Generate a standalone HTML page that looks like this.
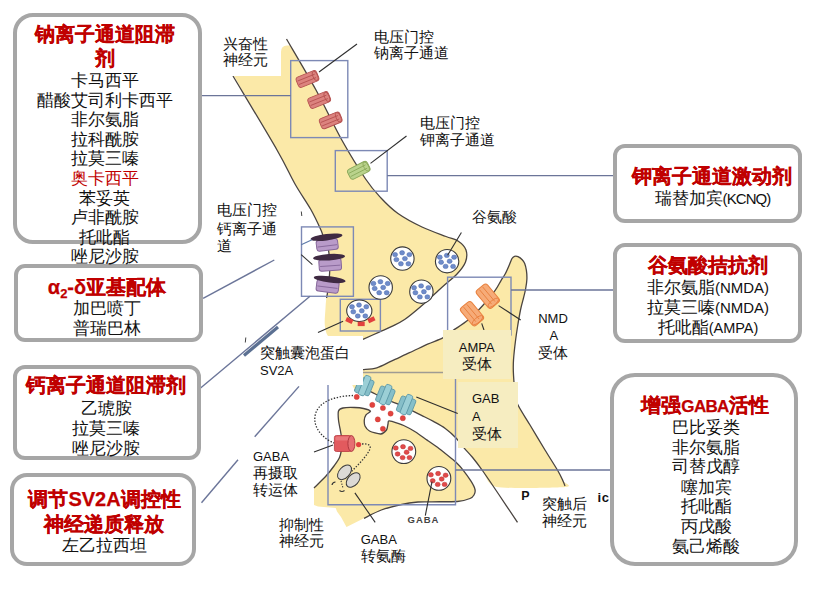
<!DOCTYPE html>
<html><head><meta charset="utf-8">
<style>
html,body{margin:0;padding:0;background:#fff;}
body{width:826px;height:590px;position:relative;overflow:hidden;font-family:"Liberation Sans",sans-serif;}
.box{position:absolute;box-sizing:border-box;border:4.1px solid #a6a6a6;background:#fff;}
.t{position:absolute;white-space:nowrap;text-align:center;transform:translateX(-50%);line-height:20px;height:20px;}
.h{color:#c00000;font-weight:bold;font-size:20px;line-height:24px;height:24px;-webkit-text-stroke:0.25px #c00000;}
.i{color:#111;font-size:17px;}
.r{color:#c00000;}
.lb{position:absolute;white-space:nowrap;font-size:15px;line-height:17px;color:#111;}
.la{font-size:13px;}
svg{position:absolute;left:0;top:0;}
</style></head><body>
<svg width="826" height="590" viewBox="0 0 826 590">
<path d="M281,76 L281,52 Q281,45.5 287,45.5 L290.0,45.5 C294.3,52.9 307.4,74.2 316.0,90.0 C324.6,105.8 333.5,125.2 341.8,140.0 C350.1,154.8 359.1,169.3 365.6,179.0 C372.1,188.7 375.6,192.2 381.0,198.0 C386.4,203.8 391.2,208.7 398.0,213.5 C404.8,218.3 414.0,223.2 422.0,227.0 C430.0,230.8 440.0,234.2 446.0,236.5 C452.0,238.8 454.7,238.8 458.0,241.0 C461.3,243.2 464.8,246.5 466.0,250.0 C467.2,253.5 467.0,258.0 465.5,262.0 C464.0,266.0 461.0,269.8 457.0,274.0 C453.0,278.2 447.6,282.2 441.7,287.5 C435.8,292.8 427.6,300.7 421.4,306.0 C415.2,311.3 409.6,316.1 404.6,319.5 C399.6,322.9 395.5,324.6 391.3,326.7 C387.1,328.8 383.9,330.0 379.2,332.1 C374.5,334.2 365.6,338.2 362.9,339.4 L346.0,346.0 C343.3,344.7 333.5,341.2 330.0,338.0 C326.5,334.8 325.8,332.0 325.0,327.0 C324.2,322.0 325.2,313.8 325.5,308.0 C325.8,302.2 326.3,298.2 327.0,292.0 C327.7,285.8 329.2,278.0 329.5,271.0 C329.8,264.0 329.5,255.7 328.5,250.0 C327.5,244.3 324.8,240.4 323.5,237.0 C322.2,233.6 322.9,234.3 320.8,229.7 C318.7,225.1 314.9,216.9 310.7,209.3 C306.5,201.7 301.0,193.8 295.4,183.9 C289.8,174.0 287.2,168.0 277.0,150.0 C266.8,132.0 241.2,88.3 234.0,76.0 L281,76 Z" fill="#fbe9a8"/>
<path d="M286.5,39.0 C291.4,47.5 306.8,73.2 316.0,90.0 C325.2,106.8 333.5,125.2 341.8,140.0 C350.1,154.8 359.1,169.3 365.6,179.0 C372.1,188.7 375.6,192.2 381.0,198.0 C386.4,203.8 391.2,208.7 398.0,213.5 C404.8,218.3 414.0,223.2 422.0,227.0 C430.0,230.8 440.0,234.2 446.0,236.5 C452.0,238.8 454.7,238.8 458.0,241.0 C461.3,243.2 464.8,246.5 466.0,250.0 C467.2,253.5 467.0,258.0 465.5,262.0 C464.0,266.0 461.0,269.8 457.0,274.0 C453.0,278.2 447.6,282.2 441.7,287.5 C435.8,292.8 427.6,300.7 421.4,306.0 C415.2,311.3 409.6,316.1 404.6,319.5 C399.6,322.9 395.5,324.6 391.3,326.7 C387.1,328.8 383.9,330.0 379.2,332.1 C374.5,334.2 365.6,338.2 362.9,339.4" fill="none" stroke="#4a4440" stroke-width="1.3"/>
<path d="M233.0,76.0 C240.3,88.3 266.7,132.0 277.0,150.0 C287.3,168.0 289.4,174.1 295.0,184.0 C300.6,193.9 306.4,201.7 310.7,209.3 C315.0,216.9 318.7,225.1 320.8,229.7 C322.9,234.3 322.2,233.7 323.5,237.0 C324.8,240.3 327.4,244.1 328.4,249.7 C329.4,255.3 329.8,263.9 329.7,270.7 C329.6,277.5 328.3,285.9 327.8,290.5 C327.3,295.1 326.8,296.8 326.6,298.0" fill="none" stroke="#4a4440" stroke-width="1.3"/>
<path d="M356.0,372.0 C357.3,371.7 360.5,370.1 362.9,369.6 C365.3,369.1 373.5,368.8 376.8,367.8 C380.1,366.8 387.5,363.0 391.3,361.2 C395.1,359.4 405.3,354.7 409.5,352.7 C413.7,350.7 423.7,345.9 427.6,344.2 C431.5,342.5 439.9,339.5 442.8,337.9 C445.7,336.3 449.7,332.8 452.7,330.7 C455.7,328.6 464.9,322.8 468.4,319.8 C471.9,316.8 479.9,308.7 483.0,305.3 C486.1,301.9 492.9,293.6 495.0,290.7 C497.1,287.8 499.8,282.6 501.0,280.6 C502.2,278.6 504.3,275.7 505.3,273.8 C506.3,271.9 508.7,266.3 509.5,264.5 C510.3,262.7 511.4,259.5 512.0,258.5 C512.6,257.5 513.8,256.5 514.5,256.3 C515.2,256.1 517.1,256.2 518.0,256.6 C518.9,257.0 521.4,259.0 522.2,259.8 C523.0,260.6 524.2,262.4 524.7,263.6 C525.2,264.8 526.1,268.6 526.4,270.4 C526.7,272.2 527.0,276.8 526.9,279.0 C526.8,281.2 526.0,286.8 525.6,289.0 C525.2,291.2 524.1,295.6 523.5,298.0 C522.9,300.4 521.2,306.6 520.5,310.0 C519.8,313.4 518.1,323.5 517.5,327.0 C516.9,330.5 516.1,336.1 515.6,340.0 C515.1,343.9 513.7,355.9 513.5,360.0 C513.3,364.1 513.3,371.3 513.5,375.0 C513.7,378.7 514.5,388.6 515.0,392.0 C515.5,395.4 515.8,400.1 517.5,404.0 C519.2,407.9 526.8,419.6 530.0,425.0 C533.2,430.4 541.7,444.6 545.0,450.0 C548.3,455.4 555.9,467.4 558.0,471.0 C560.1,474.6 562.1,479.1 563.0,481.0 C563.9,482.9 573.8,486.3 566.0,487.0 C558.2,487.7 506.2,488.9 496.5,487.0 C486.8,485.1 485.6,474.4 482.8,471.0 C480.0,467.6 474.8,460.2 472.6,457.5 C470.4,454.8 466.1,450.4 464.2,448.1 C462.3,445.8 458.2,440.3 456.0,438.0 C453.8,435.7 447.9,430.4 445.3,428.5 C442.7,426.6 436.2,422.9 433.4,421.4 C430.6,419.9 424.0,416.6 421.5,415.4 C419.0,414.2 414.9,412.1 412.0,410.7 C409.1,409.3 400.3,405.0 397.0,403.6 C393.7,402.2 386.8,399.9 383.6,398.5 C380.4,397.1 372.7,392.4 369.5,391.4 C366.3,390.4 358.0,390.9 356.0,390.0 C354.0,389.1 352.5,386.1 352.0,384.0 C351.5,381.9 351.5,373.4 352.0,372.0 C352.5,370.6 354.7,372.3 356.0,372.0 Z" fill="#fbe9a8"/>
<path d="M362.9,369.6 C365.2,369.3 372.1,369.2 376.8,367.8 C381.5,366.4 385.9,363.7 391.3,361.2 C396.8,358.7 403.4,355.5 409.5,352.7 C415.6,349.9 422.1,346.7 427.6,344.2 C433.2,341.7 438.6,340.1 442.8,337.9 C447.0,335.6 448.4,333.7 452.7,330.7 C457.0,327.7 463.3,324.0 468.4,319.8 C473.4,315.6 478.6,310.2 483.0,305.3 C487.4,300.4 492.0,294.8 495.0,290.7 C498.0,286.6 499.3,283.4 501.0,280.6 C502.7,277.8 503.9,276.5 505.3,273.8 C506.7,271.1 508.4,267.1 509.5,264.5 C510.6,261.9 511.2,259.9 512.0,258.5 C512.8,257.1 513.5,256.6 514.5,256.3 C515.5,256.0 516.7,256.0 518.0,256.6 C519.3,257.2 521.1,258.6 522.2,259.8 C523.3,261.0 524.0,261.8 524.7,263.6 C525.4,265.4 526.0,267.8 526.4,270.4 C526.8,273.0 527.0,275.9 526.9,279.0 C526.8,282.1 526.2,285.8 525.6,289.0 C525.0,292.2 524.4,294.5 523.5,298.0 C522.6,301.5 521.5,305.2 520.5,310.0 C519.5,314.8 518.3,322.0 517.5,327.0 C516.7,332.0 516.3,334.5 515.6,340.0 C514.9,345.5 513.9,354.2 513.5,360.0 C513.1,365.8 513.2,369.7 513.5,375.0 C513.8,380.3 514.3,387.2 515.0,392.0 C515.7,396.8 515.0,398.5 517.5,404.0 C520.0,409.5 525.4,417.3 530.0,425.0 C534.6,432.7 540.3,442.3 545.0,450.0 C549.7,457.7 555.0,465.8 558.0,471.0 C561.0,476.2 561.8,478.5 563.0,481.0 C564.2,483.5 564.7,485.2 565.0,486.0" fill="none" stroke="#4a4440" stroke-width="1.3"/>
<path d="M517.5,522.4 C514.3,517.7 504.3,502.6 498.5,494.0 C492.7,485.4 487.1,477.1 482.8,471.0 C478.5,464.9 475.7,461.3 472.6,457.5 C469.5,453.7 467.0,451.4 464.2,448.1 C461.4,444.9 459.1,441.3 456.0,438.0 C452.9,434.7 449.1,431.3 445.3,428.5 C441.5,425.7 437.4,423.6 433.4,421.4 C429.4,419.2 425.1,417.2 421.5,415.4 C417.9,413.6 416.1,412.7 412.0,410.7 C407.9,408.7 401.7,405.6 397.0,403.6 C392.3,401.6 388.2,400.5 383.6,398.5 C379.0,396.5 374.4,392.8 369.5,391.4 C364.6,390.0 357.0,390.2 354.5,390.0" fill="none" stroke="#4a4440" stroke-width="1.3"/>
<path d="M343.0,408.0 L354.5,407.5 L363.5,408.5 L370.5,411.3 L366.0,414.8 L364.3,420.0 L365.0,426.0 L369.5,431.0 L380.7,434.0 L386.5,430.0 L388.0,424.0 L388.5,421.0 L392.0,421.4 L403.7,425.5 L415.6,432.0 L427.5,440.4 L439.3,448.7 L451.2,458.2 L456.0,462.3 L462.5,469.3 L471.0,481.2 L475.0,489.5 L474.0,495.0 L470.0,498.5 L457.4,501.5 L432.0,501.8 L418.0,502.0 L401.7,504.5 L381.3,510.0 L364.0,518.3 L356.0,522.3 L346.5,527.0 L341.0,517.0 L337.0,511.5 L335.7,508.0 L318.0,506.5 L314.0,505.0 L314.0,488.0 L326.0,476.0 L334.0,466.0 L339.7,457.0 L342.0,444.0 L341.0,434.0 L338.5,420.0 L338.5,411.0 Z" fill="#fbe9a8"/>
<path d="M314.0,488.0 C315.6,486.4 323.3,478.9 326.0,476.0 C328.7,473.1 332.2,468.5 334.0,466.0 C335.8,463.5 338.6,459.9 339.7,457.0 C340.8,454.1 341.8,447.1 342.0,444.0 C342.2,440.9 341.5,437.2 341.0,434.0 C340.5,430.8 338.8,423.1 338.5,420.0 C338.2,416.9 337.9,412.6 338.5,411.0 C339.1,409.4 340.9,408.5 343.0,408.0 C345.1,407.5 351.8,407.4 354.5,407.5 C357.2,407.6 361.4,408.0 363.5,408.5 C365.6,409.0 370.2,410.5 370.5,411.3 C370.8,412.1 366.8,413.6 366.0,414.8 C365.2,416.0 364.4,418.5 364.3,420.0 C364.2,421.5 364.3,424.5 365.0,426.0 C365.7,427.5 367.4,429.9 369.5,431.0 C371.6,432.1 378.4,434.1 380.7,434.0 C383.0,433.9 385.5,431.3 386.5,430.0 C387.5,428.7 387.7,425.2 388.0,424.0 C388.3,422.8 388.0,421.3 388.5,421.0 C389.0,420.7 390.0,420.8 392.0,421.4 C394.0,422.0 400.6,424.1 403.7,425.5 C406.8,426.9 412.4,430.0 415.6,432.0 C418.8,434.0 424.3,438.2 427.5,440.4 C430.7,442.6 436.1,446.3 439.3,448.7 C442.5,451.1 449.0,456.4 451.2,458.2 C453.4,460.0 454.5,460.8 456.0,462.3 C457.5,463.8 460.5,466.8 462.5,469.3 C464.5,471.8 469.3,478.5 471.0,481.2 C472.7,483.9 474.6,487.7 475.0,489.5 C475.4,491.3 474.7,493.8 474.0,495.0 C473.3,496.2 472.2,497.6 470.0,498.5 C467.8,499.4 462.5,501.1 457.4,501.5 C452.3,501.9 437.3,501.7 432.0,501.8 C426.7,501.9 422.0,501.6 418.0,502.0 C414.0,502.4 406.6,503.4 401.7,504.5 C396.8,505.6 386.3,508.2 381.3,510.0 C376.3,511.8 366.3,517.2 364.0,518.3" fill="none" stroke="#4a4440" stroke-width="1.3"/>
<rect x="290.7" y="60.6" width="57.1" height="77.0" fill="none" stroke="#7d89b5" stroke-width="1.4"/>
<rect x="335.3" y="150.6" width="51.9" height="40.6" fill="none" stroke="#7d89b5" stroke-width="1.4"/>
<rect x="301.5" y="226.9" width="51.9" height="69.4" fill="none" stroke="#7d89b5" stroke-width="1.4"/>
<rect x="340.3" y="299.3" width="40.1" height="31.7" fill="none" stroke="#7d89b5" stroke-width="1.4"/>
<rect x="447.6" y="277.2" width="63.4" height="57.8" fill="none" stroke="#7d89b5" stroke-width="1.4"/>
<polyline points="328.0,372.2 328.0,504.7 455.5,504.7 455.5,372.2" fill="none" stroke="#7d89b5" stroke-width="1.4" />
<polyline points="328.0,372.5 455.5,372.5" fill="none" stroke="#9e9b93" stroke-width="1.6" />
<g transform="translate(307.5,79.0) rotate(-22.0)"><rect x="-11" y="-5.5" width="22" height="11" rx="3" fill="#dc837f" stroke="#b5504f" stroke-width="0.9"/><line x1="-10" y1="-1.8" x2="8.5" y2="-1.8" stroke="#b5504f" stroke-width="0.8"/><line x1="-10" y1="1.9" x2="8.5" y2="1.9" stroke="#b5504f" stroke-width="0.8"/><ellipse cx="8.3" cy="0" rx="2.3" ry="5" fill="none" stroke="#b5504f" stroke-width="0.8"/></g>
<g transform="translate(319.2,100.0) rotate(-22.0)"><rect x="-11" y="-5.5" width="22" height="11" rx="3" fill="#dc837f" stroke="#b5504f" stroke-width="0.9"/><line x1="-10" y1="-1.8" x2="8.5" y2="-1.8" stroke="#b5504f" stroke-width="0.8"/><line x1="-10" y1="1.9" x2="8.5" y2="1.9" stroke="#b5504f" stroke-width="0.8"/><ellipse cx="8.3" cy="0" rx="2.3" ry="5" fill="none" stroke="#b5504f" stroke-width="0.8"/></g>
<g transform="translate(330.7,120.4) rotate(-22.0)"><rect x="-11" y="-5.5" width="22" height="11" rx="3" fill="#dc837f" stroke="#b5504f" stroke-width="0.9"/><line x1="-10" y1="-1.8" x2="8.5" y2="-1.8" stroke="#b5504f" stroke-width="0.8"/><line x1="-10" y1="1.9" x2="8.5" y2="1.9" stroke="#b5504f" stroke-width="0.8"/><ellipse cx="8.3" cy="0" rx="2.3" ry="5" fill="none" stroke="#b5504f" stroke-width="0.8"/></g>
<g transform="translate(358.8,170.3) rotate(-27.0)"><rect x="-11" y="-5.5" width="22" height="11" rx="3" fill="#bad38c" stroke="#8aa85a" stroke-width="0.9"/><line x1="-10" y1="-1.8" x2="8.5" y2="-1.8" stroke="#8aa85a" stroke-width="0.8"/><line x1="-10" y1="1.9" x2="8.5" y2="1.9" stroke="#8aa85a" stroke-width="0.8"/><ellipse cx="8.3" cy="0" rx="2.3" ry="5" fill="none" stroke="#8aa85a" stroke-width="0.8"/></g>
<g transform="rotate(-7.0 326.5 237.2)"><rect x="315.5" y="239.5" width="21.5" height="10.8" rx="2.5" fill="#b99bc9" stroke="#86679a" stroke-width="1"/><line x1="316.5" y1="245.9" x2="336.0" y2="245.9" stroke="#86679a" stroke-width="0.9"/><ellipse cx="326.5" cy="237.2" rx="16" ry="3.2" fill="#3f2a42"/></g>
<g transform="rotate(-4.0 329.0 257.2)"><rect x="318.5" y="259.0" width="22.3" height="11.7" rx="2.5" fill="#b99bc9" stroke="#86679a" stroke-width="1"/><line x1="319.5" y1="265.9" x2="339.8" y2="265.9" stroke="#86679a" stroke-width="0.9"/><ellipse cx="329.0" cy="257.2" rx="16" ry="3.2" fill="#3f2a42"/></g>
<g transform="rotate(7.0 329.7 279.4)"><rect x="317.3" y="280.5" width="22.3" height="11.9" rx="2.5" fill="#b99bc9" stroke="#86679a" stroke-width="1"/><line x1="318.3" y1="287.4" x2="338.6" y2="287.4" stroke="#86679a" stroke-width="0.9"/><ellipse cx="329.7" cy="279.4" rx="16" ry="3.2" fill="#3f2a42"/></g>
<polyline points="301.2,244.8 312.0,239.8" fill="none" stroke="#5a78a8" stroke-width="1.1" />
<polyline points="301.2,254.7 312.4,264.6" fill="none" stroke="#333" stroke-width="1.1" />
<ellipse cx="402.4" cy="258.6" rx="11.7" ry="11.7" fill="#fff" stroke="#3a3a3a" stroke-width="1.1"/>
<ellipse cx="395.1" cy="254.6" rx="2.5" ry="2.2" fill="#6f8cca" stroke="#4a68ac" stroke-width="0.5"/>
<ellipse cx="402.1" cy="252.8" rx="2.5" ry="2.2" fill="#6f8cca" stroke="#4a68ac" stroke-width="0.5"/>
<ellipse cx="409.4" cy="254.6" rx="2.5" ry="2.2" fill="#6f8cca" stroke="#4a68ac" stroke-width="0.5"/>
<ellipse cx="396.4" cy="259.6" rx="2.5" ry="2.2" fill="#6f8cca" stroke="#4a68ac" stroke-width="0.5"/>
<ellipse cx="404.9" cy="258.6" rx="2.5" ry="2.2" fill="#6f8cca" stroke="#4a68ac" stroke-width="0.5"/>
<ellipse cx="400.9" cy="263.8" rx="2.5" ry="2.2" fill="#6f8cca" stroke="#4a68ac" stroke-width="0.5"/>
<ellipse cx="408.4" cy="263.8" rx="2.5" ry="2.2" fill="#6f8cca" stroke="#4a68ac" stroke-width="0.5"/>
<ellipse cx="447.1" cy="261.2" rx="11.7" ry="11.7" fill="#fff" stroke="#3a3a3a" stroke-width="1.1"/>
<ellipse cx="439.8" cy="257.2" rx="2.5" ry="2.2" fill="#6f8cca" stroke="#4a68ac" stroke-width="0.5"/>
<ellipse cx="446.8" cy="255.4" rx="2.5" ry="2.2" fill="#6f8cca" stroke="#4a68ac" stroke-width="0.5"/>
<ellipse cx="454.1" cy="257.2" rx="2.5" ry="2.2" fill="#6f8cca" stroke="#4a68ac" stroke-width="0.5"/>
<ellipse cx="441.1" cy="262.2" rx="2.5" ry="2.2" fill="#6f8cca" stroke="#4a68ac" stroke-width="0.5"/>
<ellipse cx="449.6" cy="261.2" rx="2.5" ry="2.2" fill="#6f8cca" stroke="#4a68ac" stroke-width="0.5"/>
<ellipse cx="445.6" cy="266.4" rx="2.5" ry="2.2" fill="#6f8cca" stroke="#4a68ac" stroke-width="0.5"/>
<ellipse cx="453.1" cy="266.4" rx="2.5" ry="2.2" fill="#6f8cca" stroke="#4a68ac" stroke-width="0.5"/>
<ellipse cx="380.7" cy="287.5" rx="11.7" ry="11.7" fill="#fff" stroke="#3a3a3a" stroke-width="1.1"/>
<ellipse cx="373.4" cy="283.5" rx="2.5" ry="2.2" fill="#6f8cca" stroke="#4a68ac" stroke-width="0.5"/>
<ellipse cx="380.4" cy="281.7" rx="2.5" ry="2.2" fill="#6f8cca" stroke="#4a68ac" stroke-width="0.5"/>
<ellipse cx="387.7" cy="283.5" rx="2.5" ry="2.2" fill="#6f8cca" stroke="#4a68ac" stroke-width="0.5"/>
<ellipse cx="374.7" cy="288.5" rx="2.5" ry="2.2" fill="#6f8cca" stroke="#4a68ac" stroke-width="0.5"/>
<ellipse cx="383.2" cy="287.5" rx="2.5" ry="2.2" fill="#6f8cca" stroke="#4a68ac" stroke-width="0.5"/>
<ellipse cx="379.2" cy="292.7" rx="2.5" ry="2.2" fill="#6f8cca" stroke="#4a68ac" stroke-width="0.5"/>
<ellipse cx="386.7" cy="292.7" rx="2.5" ry="2.2" fill="#6f8cca" stroke="#4a68ac" stroke-width="0.5"/>
<ellipse cx="421.4" cy="291.7" rx="11.7" ry="11.7" fill="#fff" stroke="#3a3a3a" stroke-width="1.1"/>
<ellipse cx="414.1" cy="287.7" rx="2.5" ry="2.2" fill="#6f8cca" stroke="#4a68ac" stroke-width="0.5"/>
<ellipse cx="421.1" cy="285.9" rx="2.5" ry="2.2" fill="#6f8cca" stroke="#4a68ac" stroke-width="0.5"/>
<ellipse cx="428.4" cy="287.7" rx="2.5" ry="2.2" fill="#6f8cca" stroke="#4a68ac" stroke-width="0.5"/>
<ellipse cx="415.4" cy="292.7" rx="2.5" ry="2.2" fill="#6f8cca" stroke="#4a68ac" stroke-width="0.5"/>
<ellipse cx="423.9" cy="291.7" rx="2.5" ry="2.2" fill="#6f8cca" stroke="#4a68ac" stroke-width="0.5"/>
<ellipse cx="419.9" cy="296.9" rx="2.5" ry="2.2" fill="#6f8cca" stroke="#4a68ac" stroke-width="0.5"/>
<ellipse cx="427.4" cy="296.9" rx="2.5" ry="2.2" fill="#6f8cca" stroke="#4a68ac" stroke-width="0.5"/>
<ellipse cx="359.3" cy="310.8" rx="12.6" ry="10.8" fill="#fff" stroke="#3a3a3a" stroke-width="1.1"/>
<ellipse cx="352.0" cy="306.8" rx="2.5" ry="2.2" fill="#6f8cca" stroke="#4a68ac" stroke-width="0.5"/>
<ellipse cx="359.0" cy="305.0" rx="2.5" ry="2.2" fill="#6f8cca" stroke="#4a68ac" stroke-width="0.5"/>
<ellipse cx="366.3" cy="306.8" rx="2.5" ry="2.2" fill="#6f8cca" stroke="#4a68ac" stroke-width="0.5"/>
<ellipse cx="353.3" cy="311.8" rx="2.5" ry="2.2" fill="#6f8cca" stroke="#4a68ac" stroke-width="0.5"/>
<ellipse cx="361.8" cy="310.8" rx="2.5" ry="2.2" fill="#6f8cca" stroke="#4a68ac" stroke-width="0.5"/>
<ellipse cx="357.8" cy="316.0" rx="2.5" ry="2.2" fill="#6f8cca" stroke="#4a68ac" stroke-width="0.5"/>
<ellipse cx="365.3" cy="316.0" rx="2.5" ry="2.2" fill="#6f8cca" stroke="#4a68ac" stroke-width="0.5"/>
<rect x="-3.5" y="-2.2" width="7" height="4.4" fill="#e2403e" transform="translate(349.3,320.5) rotate(25)"/>
<rect x="-3.5" y="-2.2" width="7" height="4.4" fill="#e2403e" transform="translate(361.2,323.9) rotate(0)"/>
<rect x="-3.5" y="-2.2" width="7" height="4.4" fill="#e2403e" transform="translate(371.4,319.7) rotate(-25)"/>
<ellipse cx="403.8" cy="451.6" rx="11.9" ry="11.9" fill="#fff" stroke="#3a3a3a" stroke-width="1.1"/>
<ellipse cx="395.8" cy="448.0" rx="2.5" ry="2.2" fill="#e24a4a" stroke="#b83030" stroke-width="0.5"/>
<ellipse cx="403.0" cy="446.7" rx="2.5" ry="2.2" fill="#e24a4a" stroke="#b83030" stroke-width="0.5"/>
<ellipse cx="410.5" cy="448.4" rx="2.5" ry="2.2" fill="#e24a4a" stroke="#b83030" stroke-width="0.5"/>
<ellipse cx="397.6" cy="454.0" rx="2.5" ry="2.2" fill="#e24a4a" stroke="#b83030" stroke-width="0.5"/>
<ellipse cx="406.6" cy="452.2" rx="2.5" ry="2.2" fill="#e24a4a" stroke="#b83030" stroke-width="0.5"/>
<ellipse cx="402.6" cy="457.6" rx="2.5" ry="2.2" fill="#e24a4a" stroke="#b83030" stroke-width="0.5"/>
<ellipse cx="409.5" cy="457.6" rx="2.5" ry="2.2" fill="#e24a4a" stroke="#b83030" stroke-width="0.5"/>
<ellipse cx="438.9" cy="478.4" rx="11.9" ry="11.9" fill="#fff" stroke="#3a3a3a" stroke-width="1.1"/>
<ellipse cx="430.9" cy="474.8" rx="2.5" ry="2.2" fill="#e24a4a" stroke="#b83030" stroke-width="0.5"/>
<ellipse cx="438.1" cy="473.5" rx="2.5" ry="2.2" fill="#e24a4a" stroke="#b83030" stroke-width="0.5"/>
<ellipse cx="445.6" cy="475.2" rx="2.5" ry="2.2" fill="#e24a4a" stroke="#b83030" stroke-width="0.5"/>
<ellipse cx="432.7" cy="480.8" rx="2.5" ry="2.2" fill="#e24a4a" stroke="#b83030" stroke-width="0.5"/>
<ellipse cx="441.7" cy="479.0" rx="2.5" ry="2.2" fill="#e24a4a" stroke="#b83030" stroke-width="0.5"/>
<ellipse cx="437.7" cy="484.4" rx="2.5" ry="2.2" fill="#e24a4a" stroke="#b83030" stroke-width="0.5"/>
<ellipse cx="444.6" cy="484.4" rx="2.5" ry="2.2" fill="#e24a4a" stroke="#b83030" stroke-width="0.5"/>
<g transform="translate(472.0,313.7) rotate(50.0)"><rect x="-11.5" y="-7.0" width="23.0" height="14.0" rx="3" fill="#f6ab78" stroke="#e8803e" stroke-width="1"/><line x1="-10.5" y1="-2" x2="8.5" y2="-2" stroke="#e8803e" stroke-width="0.9"/><line x1="-10.5" y1="2.2" x2="8.5" y2="2.2" stroke="#e8803e" stroke-width="0.9"/><ellipse cx="8.5" cy="0" rx="2.5" ry="6.5" fill="none" stroke="#e8803e" stroke-width="0.9"/></g>
<g transform="translate(487.8,296.2) rotate(50.0)"><rect x="-11.5" y="-7.0" width="23.0" height="14.0" rx="3" fill="#f6ab78" stroke="#e8803e" stroke-width="1"/><line x1="-10.5" y1="-2" x2="8.5" y2="-2" stroke="#e8803e" stroke-width="0.9"/><line x1="-10.5" y1="2.2" x2="8.5" y2="2.2" stroke="#e8803e" stroke-width="0.9"/><ellipse cx="8.5" cy="0" rx="2.5" ry="6.5" fill="none" stroke="#e8803e" stroke-width="0.9"/></g>
<g transform="translate(364.5,386.0) rotate(22.0) scale(0.9)"><rect x="-8.5" y="-8" width="6.5" height="18" rx="2" fill="#86bfc9" stroke="#5a97a6" stroke-width="0.9"/><rect x="2" y="-9" width="6.5" height="18" rx="2" fill="#86bfc9" stroke="#5a97a6" stroke-width="0.9"/><rect x="-3.5" y="-12" width="7" height="23" rx="2" fill="#9bcfd6" stroke="#5a97a6" stroke-width="0.9"/></g>
<g transform="translate(385.5,395.0) rotate(22.0) scale(0.9)"><rect x="-8.5" y="-8" width="6.5" height="18" rx="2" fill="#86bfc9" stroke="#5a97a6" stroke-width="0.9"/><rect x="2" y="-9" width="6.5" height="18" rx="2" fill="#86bfc9" stroke="#5a97a6" stroke-width="0.9"/><rect x="-3.5" y="-12" width="7" height="23" rx="2" fill="#9bcfd6" stroke="#5a97a6" stroke-width="0.9"/></g>
<g transform="translate(406.3,405.0) rotate(22.0) scale(0.9)"><rect x="-8.5" y="-8" width="6.5" height="18" rx="2" fill="#86bfc9" stroke="#5a97a6" stroke-width="0.9"/><rect x="2" y="-9" width="6.5" height="18" rx="2" fill="#86bfc9" stroke="#5a97a6" stroke-width="0.9"/><rect x="-3.5" y="-12" width="7" height="23" rx="2" fill="#9bcfd6" stroke="#5a97a6" stroke-width="0.9"/></g>
<circle cx="356.7" cy="396.9" r="2.6" fill="#e2443f" stroke="#c83430" stroke-width="0.4"/>
<circle cx="372.3" cy="404.9" r="2.6" fill="#e2443f" stroke="#c83430" stroke-width="0.4"/>
<circle cx="382.9" cy="408.0" r="2.6" fill="#e2443f" stroke="#c83430" stroke-width="0.4"/>
<circle cx="390.6" cy="413.6" r="2.6" fill="#e2443f" stroke="#c83430" stroke-width="0.4"/>
<circle cx="377.8" cy="419.4" r="2.6" fill="#e2443f" stroke="#c83430" stroke-width="0.4"/>
<circle cx="382.9" cy="428.8" r="2.6" fill="#e2443f" stroke="#c83430" stroke-width="0.4"/>
<circle cx="402.8" cy="418.2" r="2.6" fill="#e2443f" stroke="#c83430" stroke-width="0.4"/>
<g transform="translate(343.4,443.5)"><rect x="-9" y="-8" width="17" height="16" rx="2" fill="#e25a5e" stroke="#b83a40" stroke-width="0.8"/><rect x="-8" y="-7" width="15" height="4" rx="1.5" fill="#ec8588" opacity="0.7"/><ellipse cx="8" cy="0" rx="3.5" ry="8" fill="#e66f72" stroke="#a8323a" stroke-width="0.9"/></g>
<circle cx="358.6" cy="444.6" r="2.6" fill="#e2403e"/>
<path d="M353,395.5 C338,396 318,400 315,416 C313,430 326,440 334,443" fill="none" stroke="#333" stroke-width="1.3" stroke-dasharray="1.4,1.6"/>
<path d="M362,444 C368,443.5 371,445 370,449 C367,456 358,465 351,472" fill="none" stroke="#333" stroke-width="1.3" stroke-dasharray="1.4,1.6"/>
<ellipse cx="344.5" cy="472.3" rx="5.3" ry="8.6" transform="rotate(42 344.5 472.3)" fill="#dcdad5" stroke="#3a3a3a" stroke-width="1"/>
<ellipse cx="353.2" cy="480" rx="5.3" ry="8.6" transform="rotate(42 353.2 480)" fill="#dcdad5" stroke="#3a3a3a" stroke-width="1"/>
<path d="M332,485 q0.5,-3 3.5,-3 M339.5,490.5 q2.5,2 5,0" fill="none" stroke="#333" stroke-width="1.2"/>
<path d="M341,481 L343,488" fill="none" stroke="#333" stroke-width="1.1" stroke-dasharray="1.2,1.5"/>
<polyline points="319.0,72.0 357.0,44.0" fill="none" stroke="#2e2e2e" stroke-width="1.1" />
<polyline points="370.5,163.4 406.5,136.0" fill="none" stroke="#2e2e2e" stroke-width="1.1" />
<polyline points="447.6,255.3 461.4,232.5" fill="none" stroke="#2e2e2e" stroke-width="1.1" />
<polyline points="318.0,332.5 343.1,321.3" fill="none" stroke="#2e2e2e" stroke-width="1.1" />
<polyline points="481.7,323.4 484.0,330.0" fill="none" stroke="#2e2e2e" stroke-width="1.1" />
<polyline points="498.6,305.6 520.7,320.0" fill="none" stroke="#2e2e2e" stroke-width="1.1" />
<polyline points="416.3,396.9 457.7,413.6" fill="none" stroke="#2e2e2e" stroke-width="1.1" />
<polyline points="314.0,452.0 333.0,445.0" fill="none" stroke="#2e2e2e" stroke-width="1.1" />
<polyline points="354.9,492.9 375.2,522.4" fill="none" stroke="#2e2e2e" stroke-width="1.1" />
<polyline points="432.0,481.7 425.3,515.6" fill="none" stroke="#2e2e2e" stroke-width="1.1" />
<polyline points="245.8,337.5 245.3,342.5" fill="none" stroke="#444" stroke-width="1.0" />
<polyline points="301.3,211.5 301.8,216.0" fill="none" stroke="#444" stroke-width="1.0" />
</svg>

<!-- diagram label backgrounds -->
<div style="position:absolute;left:212px;top:28px;width:69px;height:47.8px;background:#fff;"></div>
<div style="position:absolute;left:252px;top:336px;width:111px;height:49px;background:#fff;"></div>
<div style="position:absolute;left:443.2px;top:330.2px;width:67.8px;height:49.2px;background:#f6edc1;"></div>
<div style="position:absolute;left:457.5px;top:382px;width:60.5px;height:65.7px;background:#f6edc1;"></div>
<!-- diagram labels -->
<div class="lb" style="left:222.7px;top:34.5px;">兴奋性</div>
<div class="lb" style="left:222.7px;top:51.2px;">神经元</div>
<div class="lb" style="left:373.6px;top:27.5px;">电压门控</div>
<div class="lb" style="left:373.6px;top:44px;">钠离子通道</div>
<div class="lb" style="left:420px;top:114px;">电压门控</div>
<div class="lb" style="left:420px;top:130.8px;">钾离子通道</div>
<div class="lb" style="left:216.8px;top:200.5px;">电压门控</div>
<div class="lb" style="left:216.8px;top:219.5px;">钙离子通</div>
<div class="lb" style="left:216.8px;top:237px;">道</div>
<div class="lb" style="left:472.3px;top:207.5px;">谷氨酸</div>
<div class="lb" style="left:259.7px;top:343.5px;">突触囊泡蛋白</div>
<div class="lb la" style="left:260px;top:361.5px;">SV2A</div>
<div class="lb la" style="left:458.8px;top:338.5px;">AMPA</div>
<div class="lb" style="left:462.2px;top:354.5px;">受体</div>
<div class="lb la" style="left:538.2px;top:309.5px;">NMD</div>
<div class="lb la" style="left:549.6px;top:326.5px;">A</div>
<div class="lb" style="left:538.2px;top:343.5px;">受体</div>
<div class="lb la" style="left:471.9px;top:389.5px;">GAB</div>
<div class="lb la" style="left:471.9px;top:408.3px;">A</div>
<div class="lb" style="left:471.9px;top:424.5px;">受体</div>
<div class="lb la" style="left:253px;top:447.5px;">GABA</div>
<div class="lb" style="left:253px;top:464.2px;">再摄取</div>
<div class="lb" style="left:253px;top:480.5px;">转运体</div>
<div class="lb" style="left:278.8px;top:515.5px;">抑制性</div>
<div class="lb" style="left:278.8px;top:532.2px;">神经元</div>
<div class="lb la" style="left:360.7px;top:530.5px;">GABA</div>
<div class="lb" style="left:360.7px;top:546.5px;">转氨酶</div>
<div class="lb" style="left:541.6px;top:495px;">突触后</div>
<div class="lb" style="left:541.6px;top:511.5px;">神经元</div>
<div class="lb" style="left:521.3px;top:488px;font-size:12.5px;font-weight:bold;">P</div>
<div class="lb" style="left:597.5px;top:488.5px;font-size:13px;letter-spacing:0.6px;font-weight:bold;">ic</div>
<div class="lb" style="left:407.6px;top:511px;font-size:9.5px;letter-spacing:0.9px;font-weight:bold;color:#444;">GABA</div>
<svg width="826" height="590" viewBox="0 0 826 590">
<polyline points="202.0,95.6 290.7,95.6" fill="none" stroke="#6b7599" stroke-width="1.4" />
<polyline points="387.2,175.6 613.0,175.6" fill="none" stroke="#6b7599" stroke-width="1.4" />
<polyline points="511.0,290.0 613.0,290.0" fill="none" stroke="#6b7599" stroke-width="1.4" />
<polyline points="455.5,470.0 610.5,470.0" fill="none" stroke="#6b7599" stroke-width="1.4" />
<polyline points="203.1,298.3 274.3,260.0" fill="none" stroke="#6b7599" stroke-width="1.4" />
<polyline points="200.0,388.5 310.0,296.3" fill="none" stroke="#6b7599" stroke-width="1.4" />
<polyline points="244.0,355.5 278.0,327.0" fill="none" stroke="#5b7092" stroke-width="3.2" />
<polyline points="201.5,502.7 238.0,459.7" fill="none" stroke="#6b7599" stroke-width="1.4" />
<polyline points="254.7,436.8 299.0,386.4" fill="none" stroke="#6b7599" stroke-width="1.4" />
</svg>
<!-- boxes -->
<div class="box" style="left:13px;top:13px;width:189px;height:231px;border-radius:20px;"></div>
<div class="box" style="left:14px;top:264px;width:189px;height:78px;border-radius:11px;"></div>
<div class="box" style="left:12.5px;top:365px;width:188px;height:95px;border-radius:12px;"></div>
<div class="box" style="left:10.1px;top:473.2px;width:185.7px;height:92.7px;border-radius:17px;"></div>
<div class="box" style="left:613px;top:143.7px;width:189px;height:79px;border-radius:12px;"></div>
<div class="box" style="left:613px;top:243.2px;width:189px;height:99.4px;border-radius:12px;"></div>
<div class="box" style="left:610.2px;top:373px;width:188.3px;height:193.3px;border-radius:25px;"></div>

<!-- box 1 text -->
<div class="t h" style="left:104.5px;top:22px;">钠离子通道阻滞</div>
<div class="t h" style="left:104.5px;top:45.5px;">剂</div>
<div class="t i" style="left:104.7px;top:71px;">卡马西平</div>
<div class="t i" style="left:104.7px;top:90.6px;">醋酸艾司利卡西平</div>
<div class="t i" style="left:104.7px;top:110.2px;">非尔氨脂</div>
<div class="t i" style="left:104.7px;top:129.8px;">拉科酰胺</div>
<div class="t i" style="left:104.7px;top:149.4px;">拉莫三嗪</div>
<div class="t i r" style="left:104.7px;top:169px;">奥卡西平</div>
<div class="t i" style="left:104.7px;top:188.6px;">苯妥英</div>
<div class="t i" style="left:104.7px;top:208.2px;">卢非酰胺</div>
<div class="t i" style="left:104.7px;top:227.8px;">托吡酯</div>
<div class="t i" style="left:104.7px;top:247.4px;">唑尼沙胺</div>

<!-- box 2 -->
<div class="t h" style="left:107px;top:274.5px;">α<sub style="font-size:13px;vertical-align:-4px;line-height:0">2</sub>-δ亚基配体</div>
<div class="t i" style="left:107px;top:299.0px;">加巴喷丁</div>
<div class="t i" style="left:107px;top:318.5px;">普瑞巴林</div>

<!-- box 3 -->
<div class="t h" style="left:105.5px;top:373px;">钙离子通道阻滞剂</div>
<div class="t i" style="left:106px;top:399.0px;">乙琥胺</div>
<div class="t i" style="left:106px;top:419.0px;">拉莫三嗪</div>
<div class="t i" style="left:106px;top:438.5px;">唑尼沙胺</div>

<!-- box 4 -->
<div class="t h" style="left:104.5px;top:487px;">调节SV2A调控性</div>
<div class="t h" style="left:104px;top:511.5px;">神经递质释放</div>
<div class="t i" style="left:104.5px;top:536.0px;">左乙拉西坦</div>

<!-- box 5 -->
<div class="t h" style="left:711.6px;top:164px;">钾离子通道激动剂</div>
<div class="t i" style="left:712.5px;top:189.0px;">瑞替加宾<span style="font-size:15px;letter-spacing:-0.9px">(KCNQ)</span></div>

<!-- box 6 -->
<div class="t h" style="left:708px;top:253px;">谷氨酸拮抗剂</div>
<div class="t i" style="left:708px;top:278.0px;">非尔氨脂<span style="font-size:15px">(NMDA)</span></div>
<div class="t i" style="left:708px;top:298.0px;">拉莫三嗪<span style="font-size:15px">(NMDA)</span></div>
<div class="t i" style="left:708px;top:318.0px;">托吡酯<span style="font-size:14.5px">(AMPA)</span></div>

<!-- box 7 -->
<div class="t h" style="left:705px;top:393px;">增强<span style="font-size:17px;letter-spacing:-0.7px">GABA</span>活性</div>
<div class="t i" style="left:706px;top:418.0px;">巴比妥类</div>
<div class="t i" style="left:706px;top:438.0px;">非尔氨脂</div>
<div class="t i" style="left:706px;top:457.0px;">司替戊醇</div>
<div class="t i" style="left:706px;top:477.5px;">噻加宾</div>
<div class="t i" style="left:706px;top:497.0px;">托吡酯</div>
<div class="t i" style="left:706px;top:517.0px;">丙戊酸</div>
<div class="t i" style="left:706px;top:537.0px;">氨己烯酸</div>

</body></html>
